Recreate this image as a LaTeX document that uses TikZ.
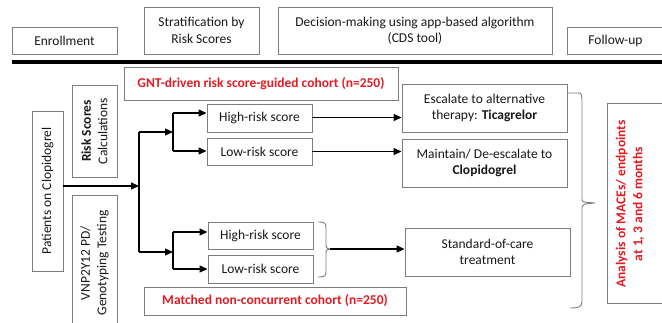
\documentclass[tikz,border=0pt]{standalone}
\usepackage{fontspec}
\setmainfont{Carlito}
\usetikzlibrary{arrows.meta}
\definecolor{redtxt}{RGB}{226,28,36}
\definecolor{boxline}{RGB}{125,125,125}
\definecolor{txt}{RGB}{25,25,25}
\begin{document}
\begin{tikzpicture}[x=1pt,y=-1pt,
  box/.style={draw=boxline,line width=0.9pt,inner sep=0pt,align=center,text=txt,font=\fontsize{13.5}{16.5}\selectfont},
  redlabel/.style={box,text=redtxt,font=\fontsize{13.5}{16.5}\selectfont\bfseries},
  arr/.style={line width=1.2pt,draw=black,-{Triangle[length=8pt,width=7pt]}},
  conn/.style={line width=1.2pt,draw=black},
  bracestyle/.style={line width=0.9pt,draw=boxline}]
\useasboundingbox (0,0) rectangle (662,322);
\fill[white] (0,0) rectangle (662,322);
% header
\node[box,minimum width=105,minimum height=27] (enroll) at (64.5,40.5) {Enrollment};
\node[box,minimum width=115,minimum height=47] (strat) at (201.5,30.5) {Stratification by\\Risk Scores};
\node[box,minimum width=274,minimum height=47] (decision) at (415,30.5) {Decision-making using app-based algorithm\\(CDS tool)};
\node[box,minimum width=97,minimum height=27] (follow) at (615.5,40.5) {Follow-up};
\coordinate (hl) at (12,62);
\coordinate (hr) at (664,62);
\draw[line width=3.5pt] (hl) -- (hr);
% left column
\node[box,minimum width=160,minimum height=31,rotate=90] (patients) at (47.5,191) {Patients on Clopidogrel};
\node[box,minimum width=92,minimum height=45,rotate=90] (risk) at (94.5,131) {\textbf{Risk Scores}\\Calculations};
\node[box,minimum width=136,minimum height=45,rotate=90] (vnp) at (94.5,263) {VNP2Y12 PD/\\Genotyping Testing};
% cohort labels
\node[redlabel,minimum width=274,minimum height=33] (gnt) at (261,83.5) {GNT-driven risk score-guided cohort (n=250)};
\node[redlabel,minimum width=262,minimum height=28] (matched) at (275,301) {Matched non-concurrent cohort (n=250)};
% risk boxes
\node[box,minimum width=105,minimum height=28] (hr1) at (259.5,118) {High-risk score};
\node[box,minimum width=105,minimum height=27] (lr1) at (259.5,151.5) {Low-risk score};
\node[box,minimum width=105,minimum height=27] (hr2) at (260.5,235.5) {High-risk score};
\node[box,minimum width=105,minimum height=28] (lr2) at (260.5,269) {Low-risk score};
% decision boxes
\node[box,minimum width=165,minimum height=48] (esc) at (484.5,108) {Escalate to alternative\\therapy: \textbf{Ticagrelor}};
\node[box,minimum width=165,minimum height=48] (maint) at (484.5,163) {Maintain/ De-escalate to\\\textbf{Clopidogrel}};
\node[box,minimum width=165,minimum height=48] (soc) at (487.5,252) {Standard-of-care\\treatment};
% analysis
\node[box,minimum width=63,minimum height=200] (anbox) at (638.5,203) {};
\node[text=redtxt,font=\fontsize{13.5}{17}\selectfont\bfseries,rotate=90,align=center,inner sep=0pt] (antext) at (630,204) {Analysis of MACEs/ endpoints\\at 1, 3 and 6 months};
% connectors
\coordinate (j0) at (139,186);
\coordinate (j1) at (139,132);
\coordinate (j2) at (139,252);
\coordinate (k1) at (173,132);
\coordinate (k1a) at (173,113);
\coordinate (k1b) at (173,151);
\coordinate (k2) at (173,252);
\coordinate (k2a) at (173,232);
\coordinate (k2b) at (173,269);
\draw[arr] (patients.south |- j0) -- (j0);
\draw[conn] (j1) -- (j2);
\draw[arr] (j1) -- (k1);
\draw[arr] (j2) -- (k2);
\draw[conn] (k1a) -- (k1b);
\draw[conn] (k2a) -- (k2b);
\draw[arr] (k1a) -- (k1a -| hr1.west);
\draw[arr] (k1b) -- (k1b -| lr1.west);
\draw[arr] (k2a) -- (k2a -| hr2.west);
\draw[arr] (k2b) -- (k2b -| lr2.west);
\draw[arr] ([yshift=0.5pt]hr1.east) -- ([yshift=0.5pt]hr1.east -| esc.west);
\draw[arr] (lr1.east) -- (lr1.east -| maint.west);
% small brace
\coordinate (b2tip) at (330,249);
\draw[bracestyle] (318,222) .. controls (325,222) and (326,223) .. (326,228) -- (326,244) .. controls (326,248) .. (b2tip)
  .. controls (326,250) .. (326,254) -- (326,271) .. controls (326,276) and (325,277) .. (318,277);
\draw[arr] (b2tip) -- (b2tip -| soc.west);
% big brace
\coordinate (b1tip) at (595,203);
\draw[bracestyle] (567,93) -- (577,93) .. controls (581,93) .. (582,98) -- (582,199) .. controls (582,202) .. (b1tip)
  (b1tip) .. controls (583,204) .. (582,207) -- (582,302) .. controls (582,307) and (578,308) .. (570,308);
\end{tikzpicture}
\end{document}
